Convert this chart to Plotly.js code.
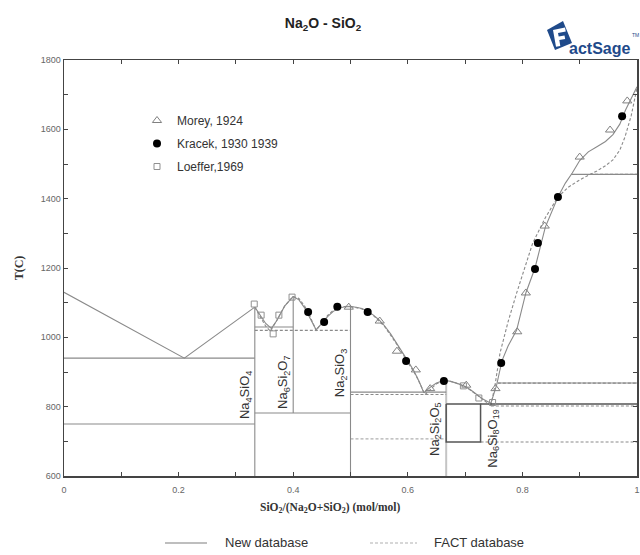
<!DOCTYPE html>
<html>
<head>
<meta charset="utf-8">
<script src="https://cdn.plot.ly/plotly-3.0.1.min.js"></script>
<style>html,body{margin:0;padding:0;background:#fff;}#chart{width:640px;height:555px;}</style>
</head>
<body>
<div id="chart"></div>
<script>
// ---------- Experimental data (SiO2 mole fraction, T in C) ----------
const moreyX  = [0.497,0.551,0.581,0.614,0.639,0.702,0.753,0.791,0.806,0.839,0.900,0.953,0.983];
const moreyT  = [1087,1047,960,906,852,862,852,1016,1128,1321,1520,1598,1682];
const kracekX = [0.426,0.454,0.477,0.530,0.597,0.663,0.763,0.822,0.827,0.862,0.974];
const kracekT = [1073,1044,1088,1073,932,874,926,1197,1272,1405,1638];
const loefferX = [0.332,0.344,0.365,0.375,0.398,0.697,0.724,0.748];
const loefferT = [1096,1064,1010,1064,1116,860,825,812];

// ---------- New database (solid) ----------
const newLiq1X = [0,0.21,0.333];
const newLiq1T = [1130,940,1087];
const newLiq2X = [0.333,0.343,0.352,0.362,0.372,0.385,0.4];
const newLiq2T = [1087,1062,1040,1026,1050,1090,1118];
const newLiq3X = [0.4,0.41,0.42,0.43,0.44,0.45,0.46,0.47,0.48,0.49,0.5,0.51,0.52,0.53,0.54,0.55,0.56,0.57,0.58,0.59,0.6,0.61,0.62,0.628];
const newLiq3T = [1118,1108,1085,1055,1022,1040,1060,1075,1084,1088,1089,1087,1083,1075,1064,1050,1032,1010,985,958,932,905,872,840];
const newLiq4X = [0.628,0.64,0.65,0.66,0.667,0.675,0.69,0.7,0.71,0.72,0.73,0.745];
const newLiq4T = [840,857,868,874,875,873,865,858,848,836,823,810];
const newLiq5X = [0.745,0.75,0.755,0.76,0.765,0.775,0.79,0.806,0.822,0.84,0.862,0.875,0.887,0.9,0.915,0.93,0.945,0.958,0.97,0.98,0.99,1.0];
const newLiq5T = [810,835,862,900,935,975,1021,1128,1200,1318,1405,1445,1474,1510,1535,1550,1565,1585,1615,1656,1690,1723];
// invariant lines: [x0, x1, T]
const newHoriz = [[0,0.333,940],[0.333,0.4,1030],[0.5,0.667,842],[0.885,1,1470]];
// compound lines: [x, T0, T1]
const newVert = [[0.333,600,1087],[0.4,782,1118],[0.5,600,1089]];
const lightHoriz = [[0,0.333,750],[0.333,0.5,782],[0.757,1,868]];
const lightVert = [[0.667,600,874]];
const boxX = [0.667,0.727,0.727,0.667];
const boxT = [808,808,698,698];
const darkHoriz = [[0.727,1,808]];

// ---------- FACT database (dashed) ----------
const factLiq1X = [0.333,0.343,0.352,0.36,0.37,0.385,0.4];
const factLiq1T = [1087,1058,1032,1018,1045,1090,1118];
const factLiq2X = [0.4,0.41,0.42,0.43,0.44,0.45,0.46,0.47,0.48,0.49,0.5];
const factLiq2T = [1118,1112,1090,1058,1020,1042,1063,1078,1086,1089,1090];
const factLiq3X = [0.5,0.52,0.54,0.56,0.58,0.6,0.615,0.63];
const factLiq3T = [1089,1082,1063,1030,982,930,888,835];
const factLiq4X = [0.63,0.64,0.65,0.66,0.667,0.68,0.7,0.72,0.745];
const factLiq4T = [835,852,866,873,875,871,858,835,803];
const factLiq5X = [0.745,0.752,0.761,0.775,0.79,0.805,0.818,0.84,0.862,0.88,0.9,0.918,0.93,0.945,0.958,0.97,0.979,0.99,1.0];
const factLiq5T = [803,860,955,1045,1128,1205,1272,1345,1405,1433,1454,1470,1480,1495,1512,1540,1578,1640,1720];
const factHoriz = [[0.333,0.5,1020],[0.5,0.667,835],[0.745,1,802],[0.727,1,698],[0.757,1,868],[0.918,1,1470]];
const factLightHoriz = [[0.5,0.667,707]];

// ---------- Compound labels ----------
const compNames = ['Na<sub>4</sub>SiO<sub>4</sub>','Na<sub>6</sub>Si<sub>2</sub>O<sub>7</sub>','Na<sub>2</sub>SiO<sub>3</sub>','Na<sub>2</sub>Si<sub>2</sub>O<sub>5</sub>','Na<sub>6</sub>Si<sub>8</sub>O<sub>19</sub>'];
const compLabelX = [0.318,0.382,0.482,0.647,0.749];
const compLabelT = [834,871,897,735,708];

// ---------- Bottom legend labels ----------
const dbNames = ['New database','FACT database'];

// ---------- helpers ----------
function join(parts){ // parts: array of [xs, ys]
  const x=[],y=[];
  parts.forEach((p,i)=>{ if(i){x.push(null);y.push(null);} x.push(...p[0]); y.push(...p[1]); });
  return {x,y};
}
const hSeg = h => [[h[0],h[1]],[h[2],h[2]]];
const vSeg = v => [[v[0],v[0]],[v[1],v[2]]];

const newMain = join([[newLiq1X,newLiq1T],[newLiq2X,newLiq2T],[newLiq3X,newLiq3T],[newLiq4X,newLiq4T],[newLiq5X,newLiq5T]]
  .concat(newHoriz.map(hSeg)).concat(newVert.map(vSeg)));
const newLight = join(lightHoriz.map(hSeg).concat(lightVert.map(vSeg)));
const newDark = join([[boxX.concat([boxX[0]]), boxT.concat([boxT[0]])]].concat(darkHoriz.map(hSeg)));
const factMain = join([[factLiq1X,factLiq1T],[factLiq2X,factLiq2T],[factLiq3X,factLiq3T],[factLiq4X,factLiq4T],[factLiq5X,factLiq5T]]
  .concat(factHoriz.map(hSeg)));
const factLight = join(factLightHoriz.map(hSeg));

const SANS = 'Liberation Sans, Arial, sans-serif';
const SERIF = 'Liberation Serif, Times New Roman, serif';
const LINE = '#8a8a8a', DASH = '3px,2px';

const traces = [
  {x:newLight.x,y:newLight.y,mode:'lines',line:{color:'#c4c4c4',width:2},showlegend:false,hoverinfo:'skip'},
  {x:factLight.x,y:factLight.y,mode:'lines',line:{color:'#b0b0b0',width:1.2,dash:DASH},showlegend:false,hoverinfo:'skip'},
  {x:newMain.x,y:newMain.y,mode:'lines',name:dbNames[0],line:{color:LINE,width:1.1},connectgaps:false,showlegend:false},
  {x:factMain.x,y:factMain.y,mode:'lines',name:dbNames[1],line:{color:LINE,width:1.1,dash:DASH},connectgaps:false,showlegend:false},
  {x:newDark.x,y:newDark.y,mode:'lines',line:{color:'#555',width:1.5},showlegend:false,hoverinfo:'skip'},
  {x:moreyX,y:moreyT,mode:'markers',name:'Morey, 1924',marker:{symbol:'triangle-up-open',size:8,color:'#808080',line:{width:1}},legendgroup:'a'},
  {x:kracekX,y:kracekT,mode:'markers',name:'Kracek, 1930 1939',marker:{symbol:'circle',size:8,color:'#000'},legendgroup:'b'},
  {x:loefferX,y:loefferT,mode:'markers',name:'Loeffer,1969',marker:{symbol:'square-open',size:6,color:'#909090',line:{width:1}},legendgroup:'c'}
];

const L=64, R=637, T=60, B=476;
const PX = px => (px-L)/(R-L);
const PY = py => (B-py)/(B-T);

const annotations = compNames.map((n,i)=>({
  x:compLabelX[i], y:compLabelT[i], xref:'x', yref:'y', text:n, textangle:-90, showarrow:false,
  font:{family:SANS,size:13,color:'#333'}
}));
annotations.push({x:PX(330),y:PY(517),xref:'paper',yref:'paper',showarrow:false,
  text:'<b>SiO<sub>2</sub>/(Na<sub>2</sub>O+SiO<sub>2</sub>) (mol/mol)</b>',font:{family:SERIF,size:11.5,color:'#333'}});
annotations.push({x:PX(567),y:PY(38),xref:'paper',yref:'paper',xanchor:'left',showarrow:false,
  text:'<b>actSage</b>',font:{family:SANS,size:16,color:'#1f4a8a'}});
annotations.push({x:PX(630),y:PY(30),xref:'paper',yref:'paper',xanchor:'left',showarrow:false,
  text:'TM',font:{family:SANS,size:5,color:'#1f4a8a'}});
// bottom legend texts
const LEGY = 542;
annotations.push({x:PX(223),y:PY(LEGY),xref:'paper',yref:'paper',xanchor:'left',yanchor:'middle',showarrow:false,
  text:dbNames[0],font:{family:SANS,size:13,color:'#333'}});
annotations.push({x:PX(432),y:PY(LEGY),xref:'paper',yref:'paper',xanchor:'left',yanchor:'middle',showarrow:false,
  text:dbNames[1],font:{family:SANS,size:13,color:'#333'}});

function pth(pts){ return 'M '+pts.map(p=>PX(p[0])+','+PY(p[1])).join(' L ')+' Z'; }
const logoBox = [[547,30],[563,21],[572,43],[555,50]];
const logoF = [[553,30],[565,27.5],[565.8,31.5],[558,33],[558.7,36.5],[564.5,35.5],[565.2,39],[559.3,40],[560.3,46],[556,46.8]];
const shapes = [
  {type:'path',xref:'paper',yref:'paper',path:pth(logoBox),fillcolor:'#1f4a8a',line:{width:0}},
  {type:'path',xref:'paper',yref:'paper',path:pth(logoF),fillcolor:'#ffffff',line:{width:0}},
  {type:'line',xref:'paper',yref:'paper',x0:PX(165),x1:PX(207),y0:PY(LEGY+1),y1:PY(LEGY+1),line:{color:'#a8a8a8',width:1.6}},
  {type:'line',xref:'paper',yref:'paper',x0:PX(370),x1:PX(417),y0:PY(LEGY+1),y1:PY(LEGY+1),line:{color:'#b0b0b0',width:1.2,dash:DASH}}
];

const layout = {
  width:640,height:555,
  margin:{l:L,r:640-R,t:T,b:555-B,pad:0},
  paper_bgcolor:'#fff',plot_bgcolor:'rgba(0,0,0,0)',
  title:{text:'<b>Na<sub>2</sub>O - SiO<sub>2</sub></b>',x:323/640,xref:'container',xanchor:'center',y:1-23/555,yref:'container',yanchor:'middle',
    font:{family:SANS,size:14,color:'#222'}},
  xaxis:{range:[0,1],showgrid:false,zeroline:false,showline:true,linecolor:'#444',linewidth:1.5,mirror:'ticks',
    ticks:'inside',ticklen:4,tickcolor:'#444',tickvals:[0,0.2,0.4,0.6,0.8,1],ticktext:['0','0.2','0.4','0.6','0.8','1'],
    ticklabelstandoff:5,tickfont:{family:SANS,size:9,color:'#666'},
    minor:{dtick:0.1,ticks:'inside',ticklen:4,tickcolor:'#444',showgrid:false}},
  yaxis:{range:[600,1800],showgrid:false,zeroline:false,showline:true,linecolor:'#444',linewidth:1.5,mirror:'ticks',
    ticks:'inside',ticklen:4,tickcolor:'#444',dtick:200,tick0:600,tickfont:{family:SANS,size:9,color:'#666'},
    minor:{dtick:100,ticks:'inside',ticklen:4,tickcolor:'#444',showgrid:false},
    title:{text:'<b>T(C)</b>',standoff:14,font:{family:SERIF,size:12,color:'#333'}}},
  legend:{x:PX(137),xanchor:'left',y:PY(106),yanchor:'top',tracegroupgap:4,
    font:{family:SANS,size:12,color:'#333'},bgcolor:'rgba(0,0,0,0)'},
  annotations:annotations,
  shapes:shapes,
  showlegend:true
};

Plotly.newPlot('chart',traces,layout,{staticPlot:true,displayModeBar:false});
</script>
</body>
</html>
